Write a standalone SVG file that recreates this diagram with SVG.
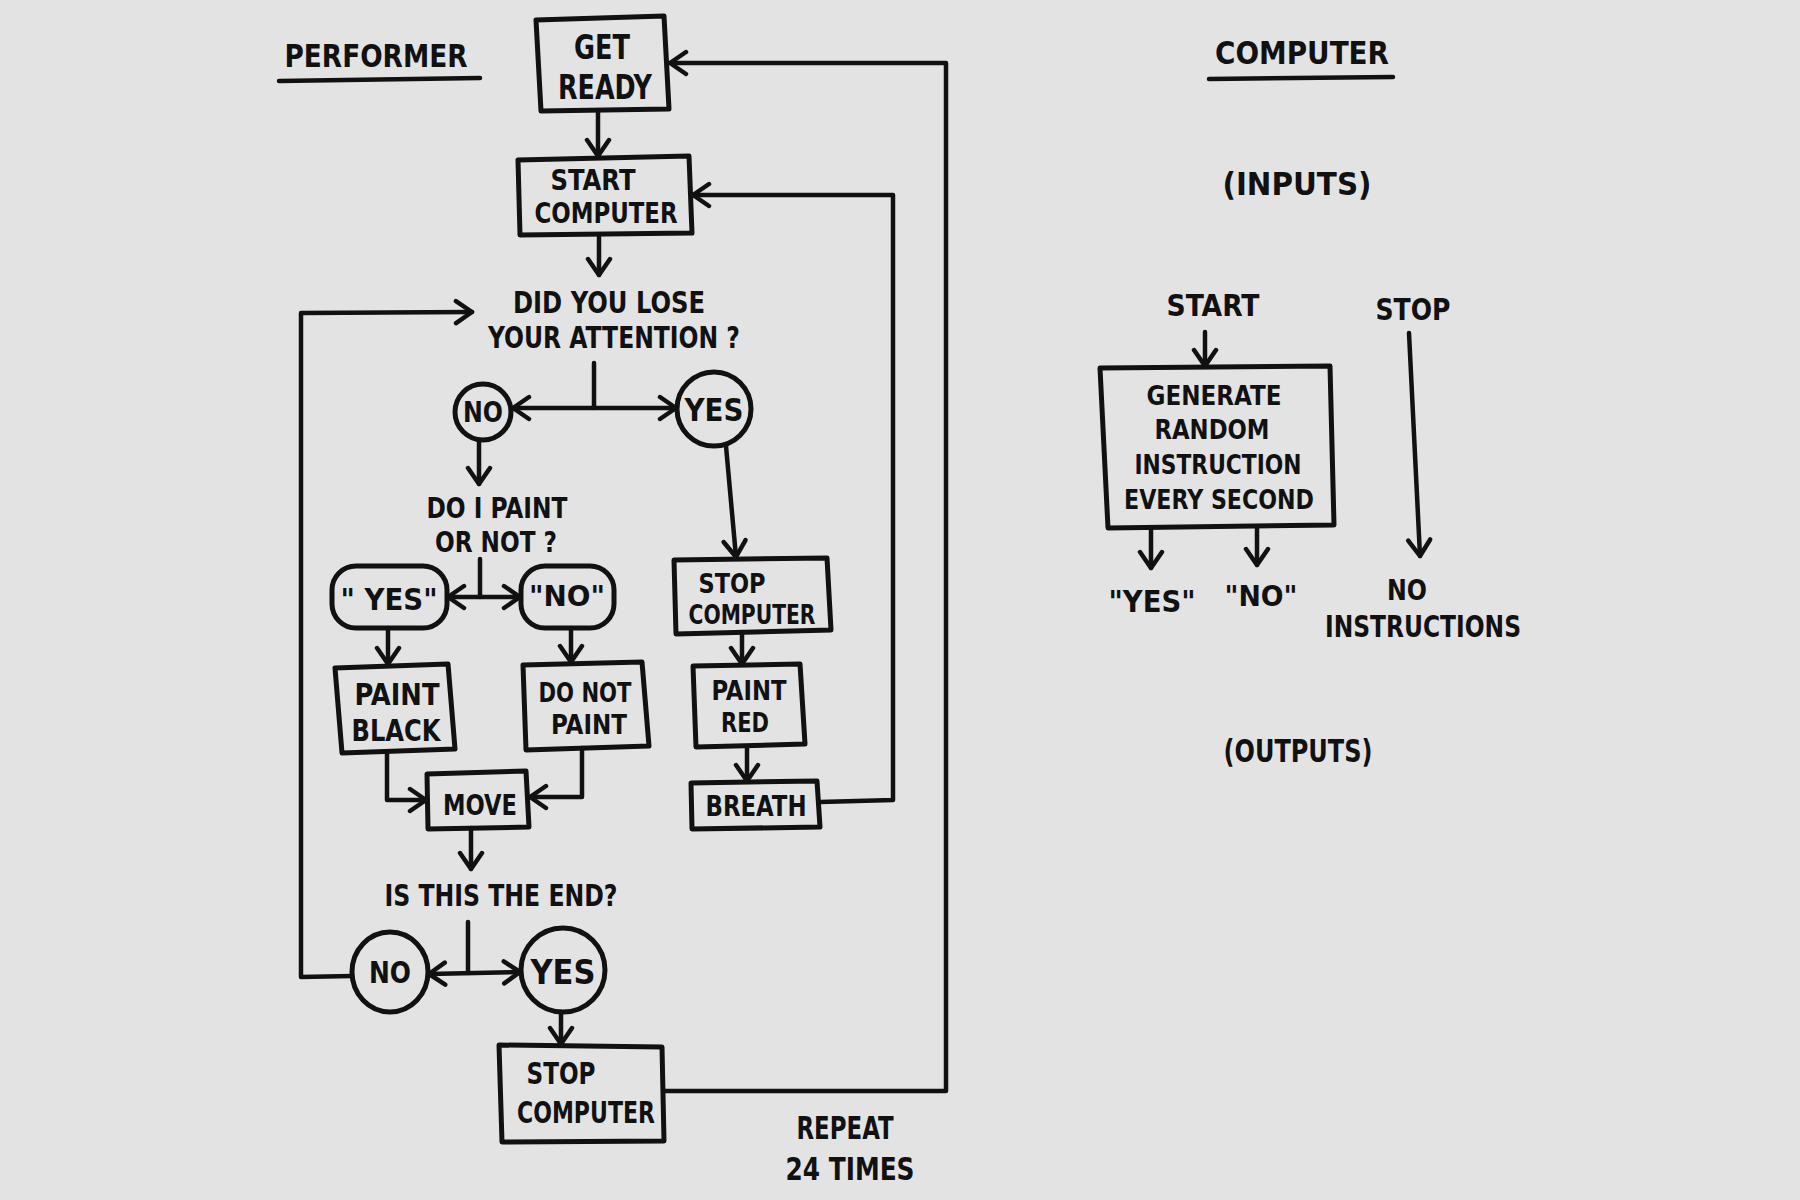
<svg xmlns="http://www.w3.org/2000/svg" width="1800" height="1200" viewBox="0 0 1800 1200">
<defs>
<style>
.bg{fill:#e3e3e3}
.box{fill:none;stroke:#111;stroke-width:5;stroke-linejoin:round;stroke-linecap:round}
.ln{fill:none;stroke:#111;stroke-width:4.5;stroke-linejoin:round;stroke-linecap:round}
.ar{marker-end:url(#v)}
.dar{marker-end:url(#v);marker-start:url(#v)}
text{font-family:"Liberation Sans Narrow","DejaVu Sans Condensed","Liberation Sans",sans-serif;font-weight:bold;fill:#111;text-anchor:middle}
.t32{font-size:32px}
.t30{font-size:30px}
.t28{font-size:28px}
.t27{font-size:27px}
.t26{font-size:26px}
.t34{font-size:34px}
.t36{font-size:36px}
</style>
<marker id="v" viewBox="-20 -14 24 28" markerWidth="24" markerHeight="28" refX="0" refY="0" orient="auto-start-reverse" markerUnits="userSpaceOnUse">
<path d="M-16,-11 L0,0 L-16,11" fill="none" stroke="#111" stroke-width="4.5" stroke-linecap="round" stroke-linejoin="round"/>
</marker>
</defs>
<rect class="bg" x="0" y="0" width="1800" height="1200"/>

<g id="titles">
<text class="t32" x="376" y="67" textLength="183" lengthAdjust="spacingAndGlyphs">PERFORMER</text>
<path class="ln" d="M279,81 L480,78"/>
<text class="t32" x="1302" y="64" textLength="174" lengthAdjust="spacingAndGlyphs">COMPUTER</text>
<path class="ln" d="M1209,79 L1393,77"/>
<text class="t32" x="1297" y="195" textLength="149" lengthAdjust="spacingAndGlyphs">(INPUTS)</text>
<text class="t32" x="1298" y="762" textLength="149" lengthAdjust="spacingAndGlyphs">(OUTPUTS)</text>
<text class="t32" x="845" y="1139" textLength="97" lengthAdjust="spacingAndGlyphs">REPEAT</text>
<text class="t32" x="850" y="1180" textLength="129" lengthAdjust="spacingAndGlyphs">24 TIMES</text>
</g>

<g id="get-ready">
<path class="box" d="M536,20 L664,16 L669,109 L541,111 Z"/>
<text class="t34" x="602" y="59" textLength="56" lengthAdjust="spacingAndGlyphs">GET</text>
<text class="t34" x="605" y="99" textLength="94" lengthAdjust="spacingAndGlyphs">READY</text>
</g>

<g id="start-computer">
<path class="box" d="M518,160 L689,156 L692,233 L520,235 Z"/>
<text class="t28" x="593" y="190" textLength="85" lengthAdjust="spacingAndGlyphs">START</text>
<text class="t28" x="606" y="223" textLength="143" lengthAdjust="spacingAndGlyphs">COMPUTER</text>
</g>

<g id="q-attention">
<text class="t30" x="609" y="313" textLength="192" lengthAdjust="spacingAndGlyphs">DID YOU LOSE</text>
<text class="t30" x="614" y="348" textLength="252" lengthAdjust="spacingAndGlyphs">YOUR ATTENTION ?</text>
</g>

<g id="no-1">
<circle class="box" cx="483" cy="412" r="28"/>
<text class="t28" x="483" y="422" textLength="40" lengthAdjust="spacingAndGlyphs">NO</text>
</g>

<g id="yes-1">
<circle class="box" cx="714" cy="409" r="37"/>
<text class="t32" x="714" y="421" textLength="59" lengthAdjust="spacingAndGlyphs">YES</text>
</g>

<g id="q-paint">
<text class="t28" x="497" y="518" textLength="141" lengthAdjust="spacingAndGlyphs">DO I PAINT</text>
<text class="t28" x="496" y="552" textLength="122" lengthAdjust="spacingAndGlyphs">OR NOT ?</text>
</g>

<g id="yes-q">
<rect class="box" x="332" y="566" width="115" height="62" rx="24"/>
<text class="t30" x="389" y="610" textLength="97" lengthAdjust="spacingAndGlyphs">" YES"</text>
</g>

<g id="no-q">
<rect class="box" x="521" y="566" width="93" height="62" rx="24"/>
<text class="t28" x="567" y="606" textLength="76" lengthAdjust="spacingAndGlyphs">"NO"</text>
</g>

<g id="paint-black">
<path class="box" d="M335,668 L448,664 L455,749 L342,753 Z"/>
<text class="t30" x="397" y="705" textLength="85" lengthAdjust="spacingAndGlyphs">PAINT</text>
<text class="t30" x="396" y="741" textLength="89" lengthAdjust="spacingAndGlyphs">BLACK</text>
</g>

<g id="do-not-paint">
<path class="box" d="M523,665 L642,662 L649,746 L526,750 Z"/>
<text class="t26" x="585" y="702" textLength="93" lengthAdjust="spacingAndGlyphs">DO NOT</text>
<text class="t26" x="589" y="734" textLength="76" lengthAdjust="spacingAndGlyphs">PAINT</text>
</g>

<g id="move">
<path class="box" d="M427,774 L526,771 L529,827 L428,829 Z"/>
<text class="t28" x="480" y="815" textLength="74" lengthAdjust="spacingAndGlyphs">MOVE</text>
</g>

<g id="stop-computer-1">
<path class="box" d="M674,560 L827,558 L831,630 L676,634 Z"/>
<text class="t26" x="732" y="593" textLength="67" lengthAdjust="spacingAndGlyphs">STOP</text>
<text class="t26" x="752" y="624" textLength="127" lengthAdjust="spacingAndGlyphs">COMPUTER</text>
</g>

<g id="paint-red">
<path class="box" d="M693,666 L800,664 L805,744 L696,747 Z"/>
<text class="t26" x="749" y="700" textLength="75" lengthAdjust="spacingAndGlyphs">PAINT</text>
<text class="t26" x="745" y="732" textLength="48" lengthAdjust="spacingAndGlyphs">RED</text>
</g>

<g id="breath">
<path class="box" d="M691,783 L817,781 L820,827 L692,829 Z"/>
<text class="t28" x="756" y="816" textLength="101" lengthAdjust="spacingAndGlyphs">BREATH</text>
</g>

<g id="q-end">
<text class="t30" x="501" y="906" textLength="233" lengthAdjust="spacingAndGlyphs">IS THIS THE END?</text>
</g>

<g id="no-2">
<ellipse class="box" cx="390" cy="972" rx="38" ry="40"/>
<text class="t30" x="390" y="983" textLength="42" lengthAdjust="spacingAndGlyphs">NO</text>
</g>

<g id="yes-2">
<circle class="box" cx="563" cy="970" r="42"/>
<text class="t34" x="563" y="984" textLength="65" lengthAdjust="spacingAndGlyphs">YES</text>
</g>

<g id="stop-computer-2">
<path class="box" d="M499,1045 L662,1047 L664,1141 L502,1142 Z"/>
<text class="t30" x="561" y="1084" textLength="69" lengthAdjust="spacingAndGlyphs">STOP</text>
<text class="t30" x="586" y="1123" textLength="138" lengthAdjust="spacingAndGlyphs">COMPUTER</text>
</g>

<g id="c-start">
<text class="t30" x="1213" y="316" textLength="93" lengthAdjust="spacingAndGlyphs">START</text>
</g>
<g id="c-stop">
<text class="t30" x="1413" y="320" textLength="75" lengthAdjust="spacingAndGlyphs">STOP</text>
</g>

<g id="generate">
<path class="box" d="M1100,368 L1330,366 L1334,525 L1108,528 Z"/>
<text class="t27" x="1214" y="405" textLength="135" lengthAdjust="spacingAndGlyphs">GENERATE</text>
<text class="t27" x="1212" y="439" textLength="115" lengthAdjust="spacingAndGlyphs">RANDOM</text>
<text class="t27" x="1218" y="474" textLength="167" lengthAdjust="spacingAndGlyphs">INSTRUCTION</text>
<text class="t27" x="1219" y="509" textLength="190" lengthAdjust="spacingAndGlyphs">EVERY SECOND</text>
</g>

<g id="out-yes">
<text class="t30" x="1152" y="612" textLength="87" lengthAdjust="spacingAndGlyphs">"YES"</text>
</g>
<g id="out-no">
<text class="t28" x="1261" y="606" textLength="73" lengthAdjust="spacingAndGlyphs">"NO"</text>
</g>
<g id="out-none">
<text class="t28" x="1407" y="600" textLength="40" lengthAdjust="spacingAndGlyphs">NO</text>
<text class="t30" x="1423" y="637" textLength="196" lengthAdjust="spacingAndGlyphs">INSTRUCTIONS</text>
</g>

<g id="connectors">
<path class="ln ar" d="M598,111 L598,156"/>
<path class="ln ar" d="M599,235 L599,275"/>
<path class="ln" d="M594,363 L594,408"/>
<path class="ln dar" d="M513,408 L676,408"/>
<path class="ln ar" d="M479,440 L479,484"/>
<path class="ln" d="M480,559 L480,597"/>
<path class="ln dar" d="M448,597 L520,597"/>
<path class="ln ar" d="M388,628 L388,664"/>
<path class="ln ar" d="M571,628 L571,662"/>
<path class="ln ar" d="M387,753 L387,800 L426,800"/>
<path class="ln ar" d="M582,748 L582,797 L530,797"/>
<path class="ln ar" d="M726,446 L736,557"/>
<path class="ln ar" d="M742,632 L742,664"/>
<path class="ln ar" d="M747,746 L747,781"/>
<path class="ln ar" d="M820,802 L893,800 L893,195 L693,195"/>
<path class="ln ar" d="M471,828 L471,869"/>
<path class="ln" d="M468,922 L468,973"/>
<path class="ln dar" d="M429,974 L520,972"/>
<path class="ln ar" d="M352,976 L301,977 L301,313 L472,312"/>
<path class="ln ar" d="M561,1012 L561,1044"/>
<path class="ln ar" d="M664,1091 L946,1091 L946,63 L670,63"/>
<path class="ln ar" d="M1205,332 L1205,366"/>
<path class="ln ar" d="M1409,333 L1420,556"/>
<path class="ln ar" d="M1151,528 L1151,568"/>
<path class="ln ar" d="M1257,527 L1257,565"/>
</g>
</svg>
